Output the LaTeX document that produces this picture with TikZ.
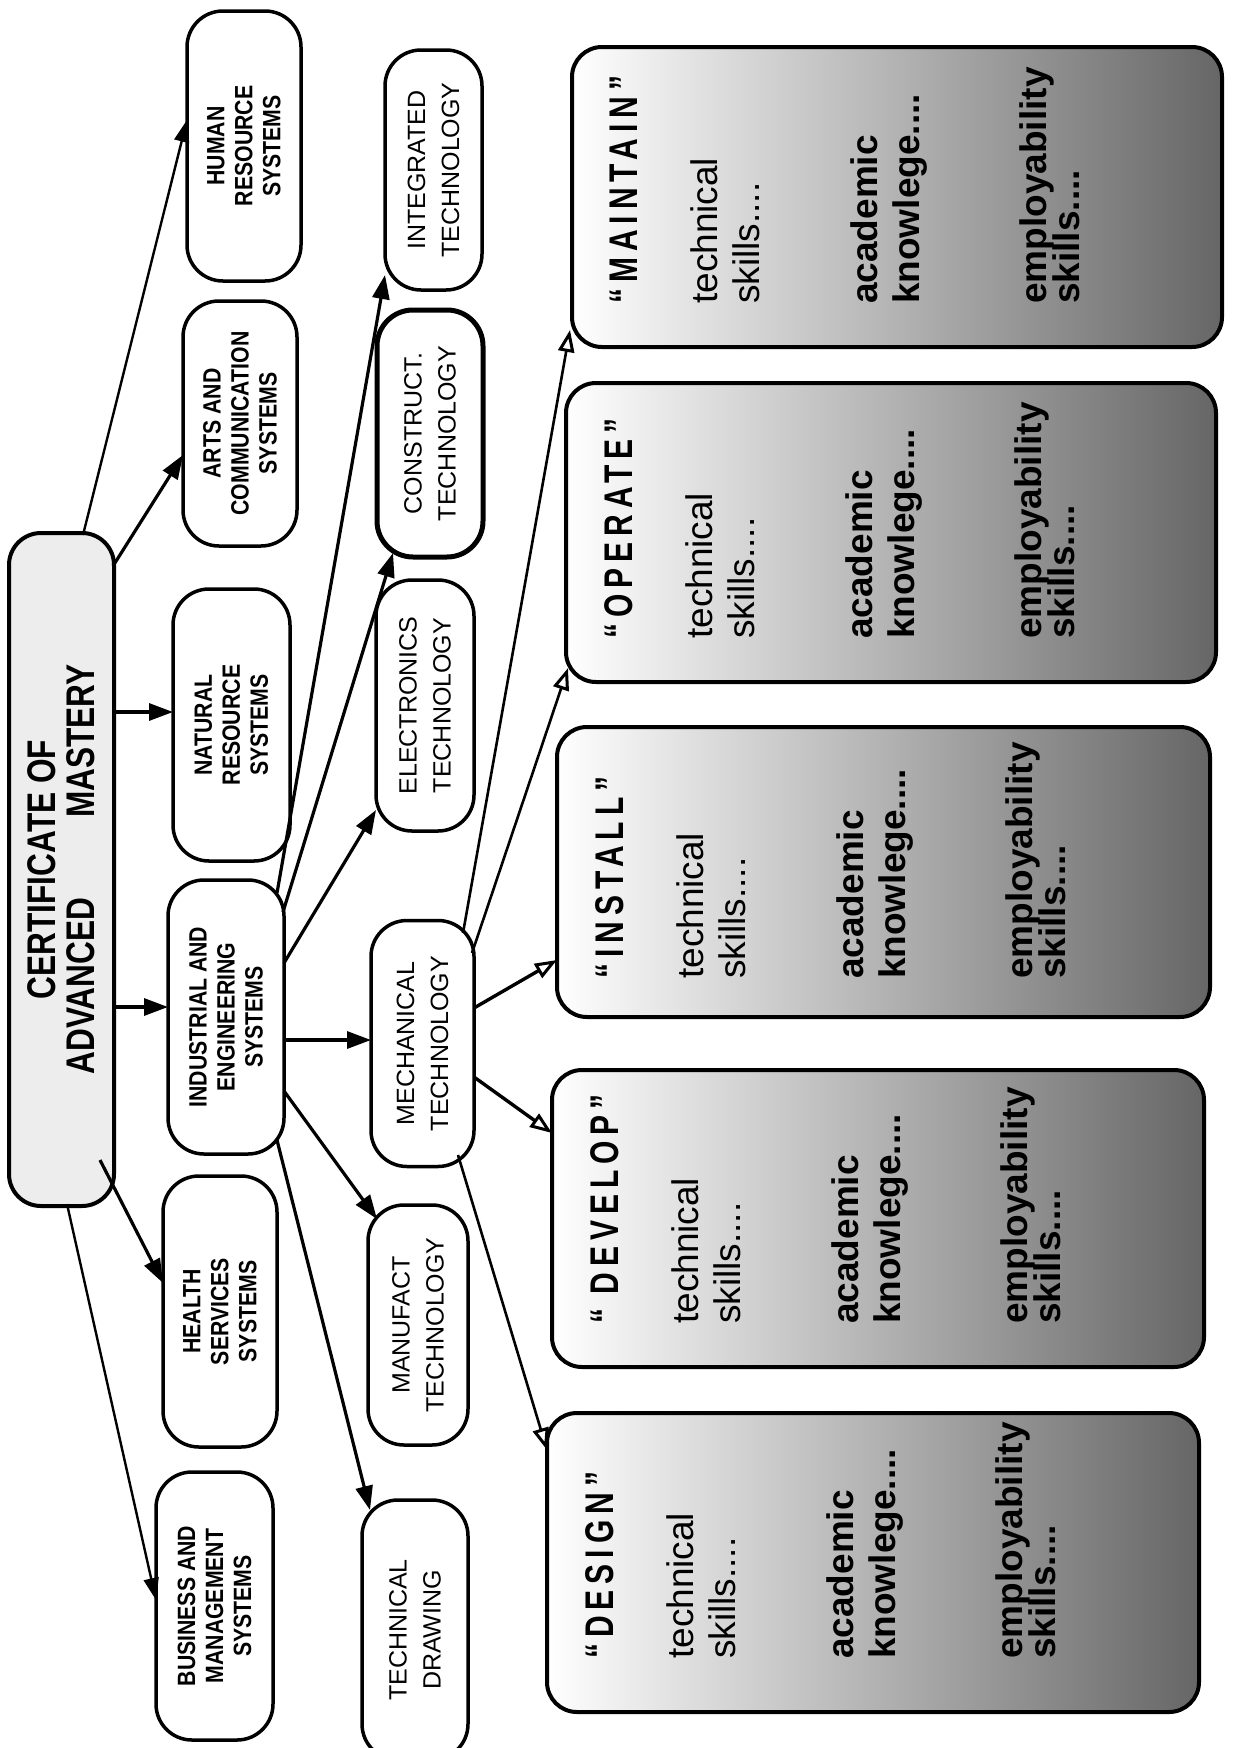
\documentclass[tikz,border=0pt]{standalone}
\usepackage{fontspec}
\setmainfont{Liberation Sans}
\newfontfamily\narrowfont[FakeStretch=0.85]{Liberation Sans}
\newfontfamily\certfont[FakeStretch=0.79]{Liberation Sans}
\newfontfamily\titlefont[FakeStretch=0.75,LetterSpace=15]{Liberation Sans}
\usetikzlibrary{arrows.meta,calc}
\newcommand\skillcontent[1]{{\titlefont\bfseries\fontsize{40}{42}\selectfont #1}\\[38pt]
technical\\
skills....\\[76pt]
\textbf{academic}\\
\textbf{knowlege....}\\[85pt]
\textbf{employability}\\[-9pt]
\textbf{skills....}}
\begin{document}
\begin{tikzpicture}[x=1pt,y=-1pt,
  sb/.style 2 args={draw, line width=3.5pt, rounded corners=36pt, rotate=90,
    minimum width=#2, minimum height=#1, inner sep=0pt, align=center, fill=white},
  certbox/.style={rounded corners=32pt, fill=black!7, line width=4pt,
    font=\certfont\bfseries\fontsize{40}{39}\selectfont},
  colB/.style={font=\narrowfont\bfseries\fontsize{25}{28}\selectfont},
  colC/.style={font=\fontsize{25}{34}\selectfont},
  bb/.style={draw, line width=4pt, rounded corners=30pt, left color=white,
    middle color=black!14, right color=black!60, inner sep=0pt},
  btext/.style={rotate=90, anchor=north west, inner sep=0pt, align=left,
    font=\fontsize{37}{42}\selectfont},
  arr/.style={line width=3.2pt, -{Triangle[length=24pt,width=17pt]}},
  thin arr/.style={line width=2.4pt, -{Triangle[length=22pt,width=15pt]}},
  open arr/.style={line width=2.6pt, -{Triangle[open,length=22pt,width=16pt,line width=3pt,fill=white]}}
]
\fill[white] (0,0) rectangle (1233,1748);
\useasboundingbox (0,0) rectangle (1233,1748);

% certificate
\node[sb={105}{673}, certbox] (cert) at (61.5,869.5)
  {CERTIFICATE OF\\ADVANCED\hspace{80pt}MASTERY};

% column B
\node[sb={114}{270}, colB] (human) at (244,146) {HUMAN\\RESOURCE\\SYSTEMS};
\node[sb={114}{245}, colB] (arts) at (240,423.5) {ARTS AND\\COMMUNICATION\\SYSTEMS};
\node[sb={117}{272}, colB] (natural) at (231.5,725) {NATURAL\\RESOURCE\\SYSTEMS};
\node[sb={116}{274}, colB] (industrial) at (226,1017) {INDUSTRIAL AND\\ENGINEERING\\SYSTEMS};
\node[sb={114}{271}, colB] (health) at (220,1311.5) {HEALTH\\SERVICES\\SYSTEMS};
\node[sb={117}{268}, colB] (business) at (214.5,1606) {BUSINESS AND\\MANAGEMENT\\SYSTEMS};

% column C
\node[sb={97}{240}, colC] (integrated) at (433.5,170) {INTEGRATED\\TECHNOLOGY};
\node[sb={106}{247}, colC, line width=5pt] (construct) at (430,433.5) {CONSTRUCT.\\TECHNOLOGY};
\node[sb={98}{251}, colC] (electronics) at (425,705.5) {ELECTRONICS\\TECHNOLOGY};
\node[sb={103}{246}, colC] (mechanical) at (422.5,1043.5) {MECHANICAL\\TECHNOLOGY};
\node[sb={100}{240}, colC] (manufact) at (418,1325) {MANUFACT\\TECHNOLOGY};
\node[sb={106}{260}, colC] (techdraw) at (415,1630) {TECHNICAL\\DRAWING};

% big boxes
\node[bb, minimum width=650, minimum height=300] (maintain) at (897,197) {};
\node[bb, minimum width=650, minimum height=299] (operate) at (891,532.5) {};
\node[bb, minimum width=653, minimum height=290] (install) at (883.5,872) {};
\node[bb, minimum width=652, minimum height=297] (develop) at (878,1218.5) {};
\node[bb, minimum width=652, minimum height=299] (design) at (873,1562.5) {};

\node[btext] (maintaintxt) at ($(maintain.south west)+(40,-45)$) {\skillcontent{“MAINTAIN”}};
\node[btext] (operatetxt) at ($(operate.south west)+(40,-45)$) {\skillcontent{“OPERATE”}};
\node[btext] (installtxt) at ($(install.south west)+(40,-40)$) {\skillcontent{“INSTALL”}};
\node[btext] (developtxt) at ($(develop.south west)+(40,-45)$) {\skillcontent{“ DEVELOP”}};
\node[btext] (designtxt) at ($(design.south west)+(40,-55)$) {\skillcontent{“DESIGN”}};

% arrows from certificate
\draw[thin arr] ($(cert.center)+(21.5,-334.5)$) -- ($(human.center)+(-57,-26)$);
\draw[arr] ($(cert.center)+(51.5,-303.5)$) -- ($(arts.center)+(-57,31.5)$);
\draw[arr] ($(cert.center)+(52.5,-157.5)$) -- ($(natural.center)+(-58.5,-13)$);
\draw[arr] ($(cert.center)+(52.5,137.5)$) -- ($(industrial.center)+(-58,-10)$);
\draw[arr] ($(cert.center)+(38.5,290.5)$) -- ($(health.center)+(-57,-28.5)$);
\draw[thin arr] ($(cert.center)+(5.5,334.5)$) -- ($(business.center)+(-58.5,-6)$);

% arrows from industrial
\draw[arr] ($(industrial.center)+(51,-124)$) -- ($(integrated.center)+(-48.5,105)$);
\draw[arr] ($(industrial.center)+(57,-105)$) -- ($(construct.center)+(-37,119.5)$);
\draw[arr] ($(industrial.center)+(58,-54)$) -- ($(electronics.center)+(-49,104.5)$);
\draw[arr] ($(industrial.center)+(58,23)$) -- ($(mechanical.center)+(-51.5,-3.5)$);
\draw[arr] ($(industrial.center)+(58,74)$) -- ($(manufact.center)+(-41,-106)$);
\draw[arr] ($(industrial.center)+(51,123)$) -- ($(techdraw.center)+(-45,-120)$);

% arrows from mechanical
\draw[open arr] ($(mechanical.center)+(40.5,-110.5)$) -- ($(maintain.center)+(-327,133)$);
\draw[open arr] ($(mechanical.center)+(49.5,-90.5)$) -- ($(operate.center)+(-323,135.5)$);
\draw[open arr, line width=3.4pt] ($(mechanical.center)+(51.5,-35.5)$) -- ($(install.center)+(-326.5,88)$);
\draw[open arr, line width=3.4pt] ($(mechanical.center)+(51.5,33.5)$) -- ($(develop.center)+(-326,-85.5)$);
\draw[open arr] ($(mechanical.center)+(35.5,111.5)$) -- ($(design.center)+(-326,-112.5)$);
\end{tikzpicture}
\end{document}
